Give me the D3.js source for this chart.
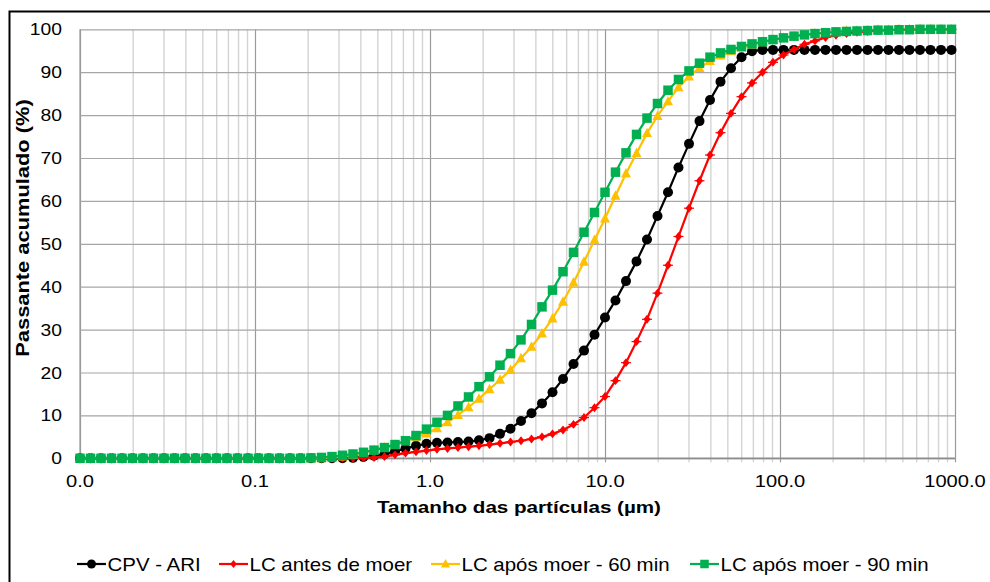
<!DOCTYPE html>
<html><head><meta charset="utf-8">
<script src="https://cdn.jsdelivr.net/npm/d3@7"></script>
<style>
html,body{margin:0;padding:0;background:#fff;}
svg{display:block;font-family:"Liberation Sans",Arial,sans-serif;}
</style></head>
<body><svg id="chart" width="990" height="582"></svg>
<script>
// Particle size classes (µm)
const sizes = [0.01,0.01148,0.01318,0.01514,0.01738,0.01995,0.02291,0.0263,0.0302,0.03467,
0.03981,0.04571,0.05248,0.06026,0.06918,0.07943,0.0912,0.1047,0.1202,0.138,
0.1585,0.182,0.2089,0.2399,0.2754,0.3162,0.3631,0.4169,0.4786,0.5495,
0.631,0.7244,0.8318,0.955,1.096,1.259,1.445,1.66,1.905,2.188,
2.512,2.884,3.311,3.802,4.365,5.012,5.754,6.607,7.586,8.71,
10.0,11.48,13.18,15.14,17.38,19.95,22.91,26.3,30.2,34.67,
39.81,45.71,52.48,60.26,69.18,79.43,91.2,104.7,120.2,138.0,
158.5,182.0,208.9,239.9,275.4,316.2,363.1,416.9,478.6,549.5,
631.0,724.4,831.8,955.0];

const seriesNames = ["CPV - ARI","LC antes de moer","LC após moer - 60 min","LC após moer - 90 min"];

const cpvAri = [0,0,0,0,0,0,0,0,0,0, 0,0,0,0,0,0,0,0,0,0, 0,0,0,0,0,0,0.1,0.3,0.6,1.0,
1.6,2.3,2.9,3.4,3.6,3.7,3.8,3.9,4.2,4.7, 5.7,6.9,8.7,10.5,12.8,15.4,18.5,22.0,25.1,28.8,
32.8,36.8,41.3,45.9,51.0,56.5,62.0,67.8,73.3,78.6, 83.5,87.8,90.9,93.5,94.9,95.2,95.2,95.2,95.2,95.2,
95.2,95.2,95.2,95.2,95.2,95.2,95.2,95.2,95.2,95.2, 95.2,95.2,95.2,95.2];

const lcAntes = [0,0,0,0,0,0,0,0,0,0, 0,0,0,0,0,0,0,0,0,0, 0,0,0,0,0,0,0,0.1,0.2,0.4,
0.8,1.2,1.5,1.8,2.1,2.3,2.5,2.7,2.9,3.2, 3.5,3.8,4.1,4.5,5.0,5.7,6.6,7.9,9.5,11.8,
14.4,18.1,22.3,27.2,32.4,38.5,45.0,51.7,58.3,64.7, 70.7,75.9,80.4,84.3,87.5,90.0,92.3,94.0,95.3,96.5,
97.3,98.1,98.6,99.0,99.3,99.5,99.7,99.8,99.9,100, 100,100,100,100];

const lc60 = [0,0,0,0,0,0,0,0,0,0, 0,0,0,0,0,0,0,0,0,0, 0,0,0,0,0.2,0.4,0.8,1.3,1.9,2.5,
3.2,4.0,4.9,5.8,7.0,8.4,10.1,11.9,13.9,16.1, 18.3,20.6,23.3,26.0,29.1,32.6,36.5,41.0,45.8,50.9,
55.9,61.2,66.4,71.1,75.8,79.8,83.2,86.5,89.0,91.0, 92.6,93.9,94.9,95.7,96.4,97.0,97.5,98.0,98.4,98.7,
99.0,99.2,99.4,99.6,99.7,99.8,99.9,99.9,100,100, 100,100,100,100];

const lc90 = [0,0,0,0,0,0,0,0,0,0, 0,0,0,0,0,0,0,0,0,0, 0,0,0.1,0.2,0.4,0.7,1.0,1.4,1.9,2.5,
3.2,4.1,5.3,6.8,8.4,10.0,12.2,14.3,16.7,19.0, 21.7,24.4,27.6,31.2,35.3,39.2,43.5,48.0,52.7,57.3,
62.0,66.7,71.2,75.5,79.3,82.7,85.8,88.3,90.3,92.1, 93.5,94.5,95.3,96.0,96.6,97.1,97.6,98.0,98.4,98.7,
99.0,99.2,99.4,99.5,99.6,99.7,99.8,99.8,99.9,99.9, 100,100,100,100];

const xTickValues = [0.01,0.1,1,10,100,1000];
const xTickLabels = ["0.0","0.1","1.0","10.0","100.0","1000.0"];
const yTickValues = [0,10,20,30,40,50,60,70,80,90,100];

const colors = ["#000000","#FF0000","#FFC000","#00B050"];
const markers = ["circle","diamond","triangle","square"];
const allSeries = [cpvAri, lcAntes, lc60, lc90];

const svg = d3.select("#chart");
const L = 80, R = 955, T = 29.3, B = 458.3;

// outer frame
svg.append("rect").attr("x",9.5).attr("y",11.5).attr("width",1000).attr("height",620)
  .attr("fill","#fff").attr("stroke","#000").attr("stroke-width",2);

const x = d3.scaleLog().domain([0.01,1000]).range([L,R]);
const y = d3.scaleLinear().domain([0,100]).range([B,T]);

// vertical grid (minor + major)
const minorTicks = [];
[0.01,0.1,1,10,100].forEach(d=>{ for(let k=2;k<=9;k++) minorTicks.push(d*k); });
const gx = svg.append("g").attr("transform",`translate(0,${B})`)
  .call(d3.axisBottom(x).tickValues(minorTicks).tickSize(-(B-T)).tickSizeOuter(0).tickFormat(""));
gx.select(".domain").remove();
gx.selectAll(".tick line").attr("stroke","#d4d4d4").attr("stroke-width",1.4).attr("y2",-(B-T)).attr("y1",4);

const gxM = svg.append("g").attr("transform",`translate(0,${B})`)
  .call(d3.axisBottom(x).tickValues(xTickValues).tickSize(-(B-T)).tickSizeOuter(0).tickFormat(""));
gxM.select(".domain").remove();
gxM.selectAll(".tick line").attr("stroke","#9a9a9a").attr("stroke-width",1.2).attr("y1",4);

// horizontal grid
const gy = svg.append("g").attr("transform",`translate(${L},0)`)
  .call(d3.axisLeft(y).tickValues(yTickValues).tickSize(-(R-L)).tickSizeOuter(0).tickFormat(""));
gy.select(".domain").remove();
gy.selectAll(".tick line").attr("stroke","#a6a6a6").attr("stroke-width",1.2);

// axis lines
svg.append("line").attr("x1",L).attr("x2",L).attr("y1",T).attr("y2",B+4).attr("stroke","#9a9a9a").attr("stroke-width",1.2);
svg.append("line").attr("x1",L).attr("x2",R).attr("y1",B).attr("y2",B).attr("stroke","#8c8c8c").attr("stroke-width",1.4);

// text helper (horizontally stretched like the original rendering)
function txt(g, s, tx, ty, opts){
  const t = g.append("text").text(s)
    .attr("transform",`translate(${tx},${ty}) ${opts.rot?`rotate(${opts.rot})`:""} scale(${opts.sx||1},1)`)
    .attr("font-size",opts.fs).attr("fill","#000")
    .attr("text-anchor",opts.anchor||"start");
  if(opts.bold) t.attr("font-weight","bold");
  return t;
}

// y tick labels
yTickValues.forEach(v=>{
  txt(svg, String(v), 62, y(v)+6, {fs:16.5, sx:1.17, anchor:"end"});
});
// x tick labels
xTickValues.forEach((v,i)=>{
  txt(svg, xTickLabels[i], x(v), 487, {fs:16.5, sx:1.22, anchor:"middle"});
});

// axis titles
txt(svg, "Tamanho das partículas (µm)", 519, 513, {fs:16.5, sx:1.25, anchor:"middle", bold:true});
txt(svg, "Passante acumulado (%)", 29, 228, {fs:17.5, sx:1.25, anchor:"middle", bold:true, rot:-90});

// markers
function drawMarker(g, type, cx, cy, color, size){
  if(type==="circle"){
    g.append("circle").attr("cx",cx).attr("cy",cy).attr("r",size*0.5).attr("fill",color);
  } else if(type==="square"){
    const s=size;
    g.append("rect").attr("x",cx-s/2).attr("y",cy-s/2).attr("width",s).attr("height",s).attr("fill",color);
  } else if(type==="triangle"){
    const s=size*1.05;
    g.append("path").attr("d",`M${cx},${cy-s*0.55}L${cx+s/2},${cy+s*0.4}L${cx-s/2},${cy+s*0.4}Z`).attr("fill",color);
  } else if(type==="diamond"){
    const s=size*0.42;
    g.append("path").attr("d",`M${cx},${cy-s*1.25}L${cx+s},${cy}L${cx},${cy+s*1.25}L${cx-s},${cy}Z`).attr("fill",color);
    g.append("line").attr("x1",cx-s*1.4).attr("x2",cx+s*1.4).attr("y1",cy).attr("y2",cy).attr("stroke",color).attr("stroke-width",1.2);
  }
}
const markerSize = [10, 8.5, 9.5, 9.5];

const line = d3.line().x(d=>x(d[0])).y(d=>y(d[1]));
allSeries.forEach((vals,si)=>{
  const g = svg.append("g");
  const pts = sizes.map((s,i)=>[s,vals[i]]);
  g.append("path").attr("d",line(pts)).attr("fill","none").attr("stroke",colors[si]).attr("stroke-width",2.2).attr("stroke-linejoin","round");
  pts.forEach(p=>drawMarker(g, markers[si], x(p[0]), y(p[1]), colors[si], markerSize[si]));
});

// legend
const legX = [77, 219, 431, 690];
const legY = 564;
seriesNames.forEach((n,i)=>{
  const g = svg.append("g");
  g.append("line").attr("x1",legX[i]).attr("x2",legX[i]+29).attr("y1",legY).attr("y2",legY).attr("stroke",colors[i]).attr("stroke-width",2.2);
  drawMarker(g, markers[i], legX[i]+14.5, legY, colors[i], markerSize[i]*0.9);
  txt(g, n, legX[i]+30.5, legY+6.5, {fs:17.5, sx:1.17});
});
</script>
</body></html>
